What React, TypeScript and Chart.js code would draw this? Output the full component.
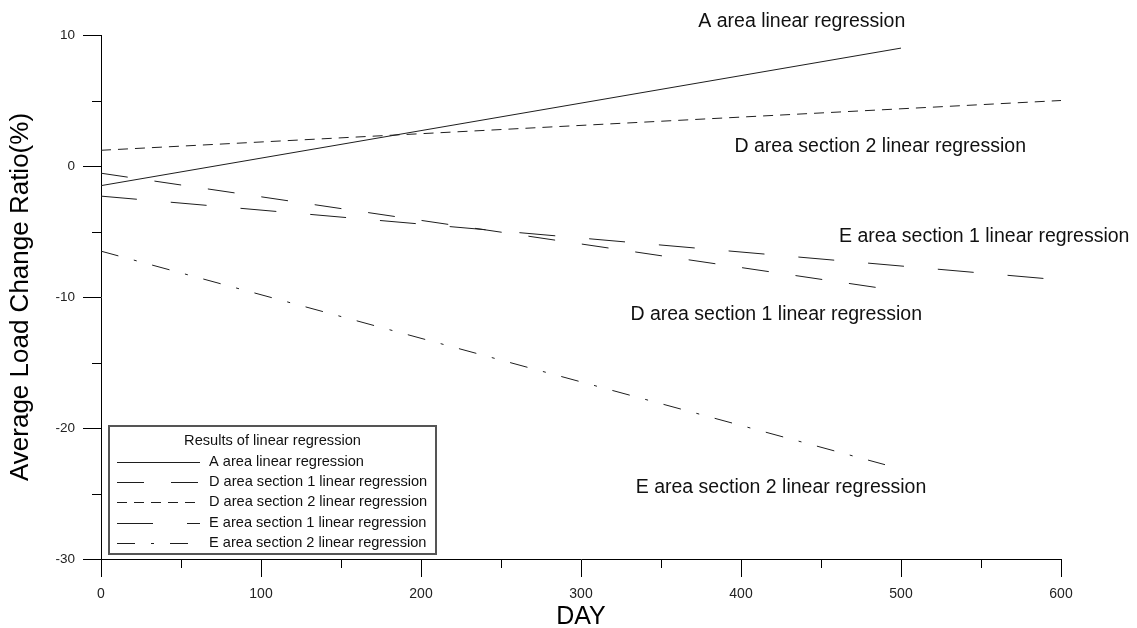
import React, { useEffect, useRef } from 'react';
import { Chart, registerables } from 'chart.js';

Chart.register(...registerables);

// ---- data ----
const seriesNames = [
  'A area linear regression',
  'D area section 1 linear regression',
  'D area section 2 linear regression',
  'E area section 1 linear regression',
  'E area section 2 linear regression',
];
const aDays = [0, 500];
const aValues = [-1.5, 9.0];
const d1Days = [0, 500];
const d1Values = [-0.55, -9.55];
const d2Days = [0, 600];
const d2Values = [1.2, 5.0];
const e1Days = [0, 600];
const e1Values = [-2.3, -8.7];
const e2Days = [0, 490];
const e2Values = [-6.5, -22.8];

const xMajorTicks = [0, 100, 200, 300, 400, 500, 600];
const yMajorTicks = [-30, -20, -10, 0, 10];

// label anchor (center of text) in data coordinates, in series order
const annotationDays = [438, 422, 487, 552, 425];
const annotationValues = [11.0, -11.37, 1.45, -5.42, -24.58];

const legendTitle = 'Results of linear regression';
const xTitle = 'DAY';
const yTitle = 'Average Load Change Ratio(%)';

// ---- styles ----
const FONT = '"Liberation Sans", Arial, sans-serif';
const dashes: number[][] = [[], [27, 27], [10, 7], [36, 34], [18, 16, 3, 16]];
const LINE_COLOR = '#1e1e1e';

const allDays = [aDays, d1Days, d2Days, e1Days, e2Days];
const allValues = [aValues, d1Values, d2Values, e1Values, e2Values];

const overlayPlugin = {
  id: 'overlay',
  afterDraw(chart: any) {
    const ctx = chart.ctx as CanvasRenderingContext2D;
    const xs = chart.scales.x;
    const ys = chart.scales.y;
    const area = chart.chartArea;
    ctx.save();
    // minor ticks
    ctx.strokeStyle = '#000';
    ctx.lineWidth = 1;
    ctx.beginPath();
    xs.ticks.forEach((t: any) => {
      if (xMajorTicks.indexOf(t.value) === -1) {
        const px = Math.round(xs.getPixelForValue(t.value)) + 0.5;
        ctx.moveTo(px, area.bottom);
        ctx.lineTo(px, area.bottom + 9);
      }
    });
    ys.ticks.forEach((t: any) => {
      if (yMajorTicks.indexOf(t.value) === -1) {
        const py = Math.round(ys.getPixelForValue(t.value)) + 0.5;
        ctx.moveTo(area.left - 9, py);
        ctx.lineTo(area.left, py);
      }
    });
    ctx.stroke();

    // annotations
    ctx.fillStyle = '#111';
    ctx.font = `19.5px ${FONT}`;
    ctx.textAlign = 'center';
    ctx.textBaseline = 'middle';
    seriesNames.forEach((name, i) => {
      const px = xs.getPixelForValue(annotationDays[i]);
      const py = ys.getPixelForValue(annotationValues[i]);
      ctx.fillText(name, px, py);
    });

    // legend box
    const bx = area.left + 7;
    const by = 425;
    const bw = 329;
    const bh = 130;
    ctx.fillStyle = '#fff';
    ctx.fillRect(bx, by, bw, bh);
    ctx.strokeStyle = '#555';
    ctx.lineWidth = 2;
    ctx.strokeRect(bx + 1, by + 1, bw - 2, bh - 2);
    ctx.fillStyle = '#111';
    ctx.font = `14.6px ${FONT}`;
    ctx.textAlign = 'center';
    ctx.fillText(legendTitle, bx + bw / 2, by + 16);
    ctx.textAlign = 'left';
    seriesNames.forEach((name, i) => {
      const ry = by + 36.5 + i * 20.4;
      ctx.strokeStyle = LINE_COLOR;
      ctx.lineWidth = 1;
      ctx.setLineDash(dashes[i]);
      ctx.beginPath();
      ctx.moveTo(bx + 9, Math.round(ry) + 0.5);
      ctx.lineTo(bx + 92, Math.round(ry) + 0.5);
      ctx.stroke();
      ctx.setLineDash([]);
      ctx.fillText(name, bx + 101, ry);
    });
    ctx.restore();
  },
};

export default function App() {
  const ref = useRef<HTMLCanvasElement | null>(null);
  useEffect(() => {
    if (!ref.current) return;
    const datasets = seriesNames.map((name, i) => ({
      label: name,
      data: allDays[i].map((d, j) => ({ x: d, y: allValues[i][j] })),
      borderColor: LINE_COLOR,
      borderWidth: 1,
      borderDash: dashes[i],
      pointRadius: 0,
      fill: false,
      tension: 0,
    }));
    const chart = new Chart(ref.current, {
      type: 'line',
      data: { datasets },
      options: {
        responsive: false,
        animation: false,
        layout: { padding: { left: 0, top: 35, right: 76, bottom: 0 } },
        plugins: { legend: { display: false }, tooltip: { enabled: false } },
        scales: {
          x: {
            type: 'linear',
            min: 0,
            max: 600,
            afterFit: (s: any) => { s.height = 69; },
            ticks: {
              stepSize: 50,
              autoSkip: false,
              maxRotation: 0,
              padding: 9,
              color: '#222',
              font: { family: FONT, size: 14 },
              callback: (v: any) => (xMajorTicks.indexOf(v) !== -1 ? String(v) : ''),
            },
            grid: {
              drawOnChartArea: false,
              drawTicks: true,
              tickLength: 18,
              tickColor: (c: any) => (c.tick && xMajorTicks.indexOf(c.tick.value) !== -1 ? '#000' : 'rgba(0,0,0,0)'),
            },
            border: { display: true, color: '#000', width: 1 },
            title: {
              display: true,
              text: xTitle,
              color: '#000',
              font: { family: FONT, size: 25, lineHeight: 1 },
              padding: { top: 0, bottom: -2 },
            },
          },
          y: {
            type: 'linear',
            min: -30,
            max: 10,
            afterFit: (s: any) => { s.width = 101; },
            ticks: {
              stepSize: 5,
              autoSkip: false,
              padding: 8,
              color: '#222',
              font: { family: FONT, size: 13.5 },
              callback: (v: any) => (yMajorTicks.indexOf(v) !== -1 ? String(v) : ''),
            },
            grid: {
              drawOnChartArea: false,
              drawTicks: true,
              tickLength: 18,
              tickColor: (c: any) => (c.tick && yMajorTicks.indexOf(c.tick.value) !== -1 ? '#000' : 'rgba(0,0,0,0)'),
            },
            border: { display: true, color: '#000', width: 1 },
            title: {
              display: true,
              text: yTitle,
              color: '#000',
              font: { family: FONT, size: 26, lineHeight: 1 },
              padding: { top: 8, bottom: 0 },
            },
          },
        },
      },
      plugins: [overlayPlugin],
    });
    return () => chart.destroy();
  }, []);
  return (
    <div style={{ position: 'absolute', left: 0, top: 0, width: 1137, height: 628, background: '#fff' }}>
      <canvas ref={ref} width={1137} height={628} style={{ display: 'block' }} />
    </div>
  );
}
